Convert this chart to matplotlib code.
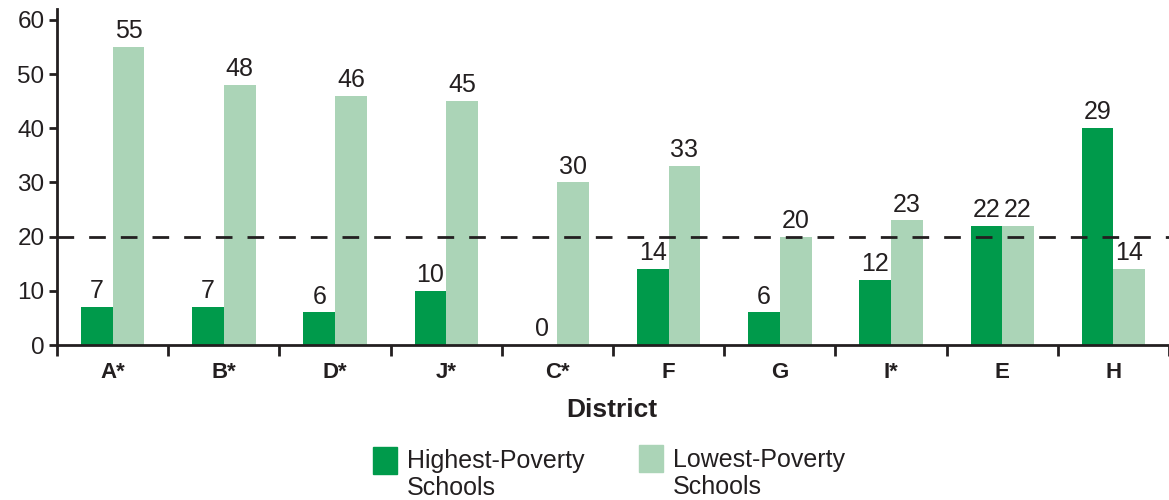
import matplotlib.pyplot as plt
import numpy as np
from matplotlib.patches import Rectangle

# data
districts = ['A*', 'B*', 'D*', 'J*', 'C*', 'F', 'G', 'I*', 'E', 'H']
highest = [7, 7, 6, 10, 0, 14, 6, 12, 22, 40]
lowest = [55, 48, 46, 45, 30, 33, 20, 23, 22, 14]
highest_labels = ['7', '7', '6', '10', '0', '14', '6', '12', '22', '29']
lowest_labels = ['55', '48', '46', '45', '30', '33', '20', '23', '22', '14']
threshold = 20

dark = '#009a4b'
light = '#abd4b7'
ink = '#231f20'

plt.rcParams['font.family'] = ['Liberation Sans', 'DejaVu Sans']

fig = plt.figure(figsize=(11.69, 5), dpi=100)
ax = fig.add_axes([0.0488, 0.31, 0.9512, 0.672])

x = np.arange(len(districts))
w = 0.285
b1 = ax.bar(x - w/2, highest, w, color=dark)
b2 = ax.bar(x + w/2, lowest, w, color=light)

for rect, lab in zip(b1, highest_labels):
    ax.text(rect.get_x() + rect.get_width()/2, rect.get_height() + 0.7, lab,
            ha='center', va='bottom', fontsize=18, color=ink)
for rect, lab in zip(b2, lowest_labels):
    ax.text(rect.get_x() + rect.get_width()/2, rect.get_height() + 0.7, lab,
            ha='center', va='bottom', fontsize=18, color=ink)

ax.axhline(threshold, color=ink, lw=2, dashes=(6, 5.4), zorder=3)

ax.set_xlim(-0.5, len(districts) - 0.5)
ax.set_ylim(0, 62)
ax.set_yticks(range(0, 61, 10))
ax.set_xticks(x)
ax.set_xticklabels(districts, fontsize=16, fontweight='bold', color=ink)
ax.set_xticks(np.arange(-0.5, len(districts), 1), minor=True)
ax.tick_params(axis='x', which='major', length=0, pad=12)
ax.tick_params(axis='x', which='minor', length=8, width=2, color=ink, direction='out')
ax.tick_params(axis='y', length=6, width=2, color=ink, labelsize=17.5, labelcolor=ink, pad=3)

for s in ['top', 'right']:
    ax.spines[s].set_visible(False)
for s in ['left', 'bottom']:
    ax.spines[s].set_linewidth(2)
    ax.spines[s].set_color(ink)

fig.text(0.523, 1 - 417/500, 'District', ha='center', va='baseline', fontsize=19,
         fontweight='bold', color=ink)

# legend drawn by hand
fig.patches.append(Rectangle((373/1169, 1 - 474/500), 24/1169, 27/500,
                             transform=fig.transFigure, color=dark))
fig.text(407/1169, 1 - 468/500, 'Highest-Poverty', ha='left', va='baseline',
         fontsize=18, color=ink)
fig.text(407/1169, 1 - 495/500, 'Schools', ha='left', va='baseline',
         fontsize=18, color=ink)
fig.patches.append(Rectangle((639/1169, 1 - 472/500), 24/1169, 27/500,
                             transform=fig.transFigure, color=light))
fig.text(673/1169, 1 - 467/500, 'Lowest-Poverty', ha='left', va='baseline',
         fontsize=18, color=ink)
fig.text(673/1169, 1 - 494/500, 'Schools', ha='left', va='baseline',
         fontsize=18, color=ink)

fig.savefig('out.png', dpi=100)
